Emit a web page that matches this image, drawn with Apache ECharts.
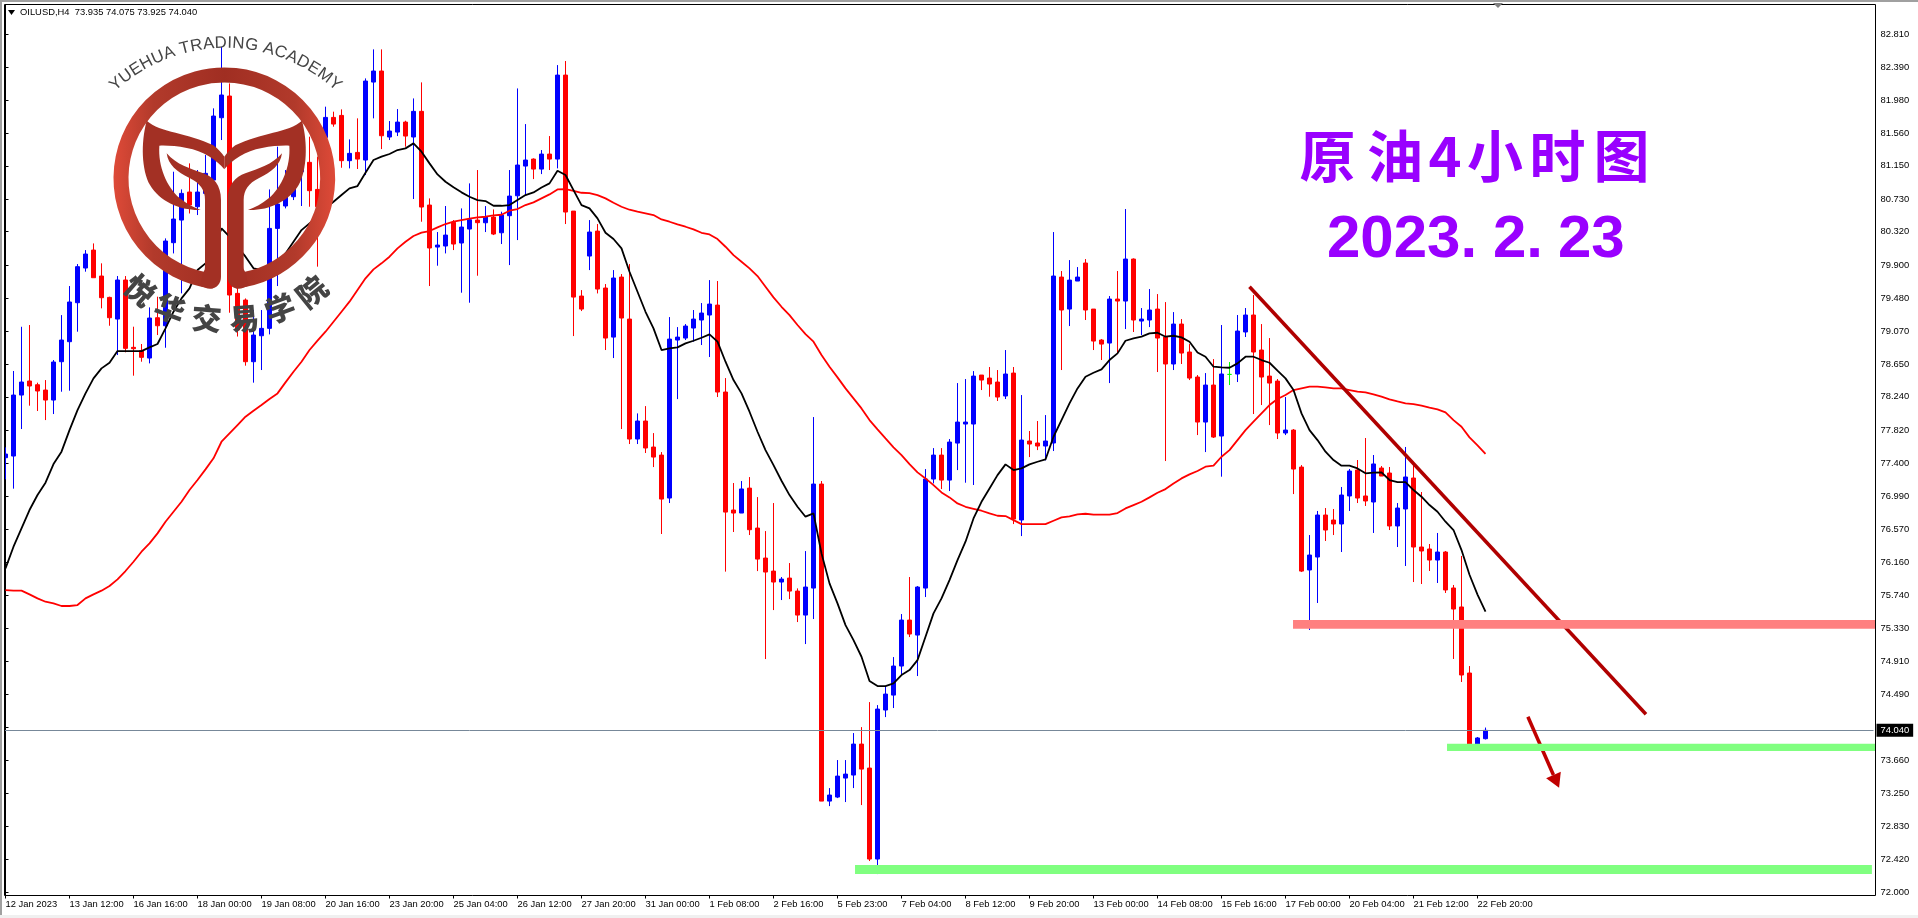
<!DOCTYPE html>
<html><head><meta charset="utf-8">
<style>html,body{margin:0;padding:0;background:#fff}#c{width:1918px;height:918px}</style>
<script src="https://cdn.jsdelivr.net/npm/echarts@6/dist/echarts.min.js"></script>
</head><body><div id="c"></div>
<script>
const opens=[77.474,77.495,78.263,78.440,78.393,78.326,78.200,78.683,78.935,79.426,
79.863,80.089,79.762,79.493,79.220,79.712,78.864,78.822,78.729,79.237,
79.136,80.182,80.467,80.820,80.635,80.803,80.971,81.756,82.029,79.544,
79.460,78.683,79.010,79.103,80.362,80.644,80.761,81.076,81.194,80.853,
81.508,81.760,81.785,81.215,81.319,81.223,82.205,82.344,81.513,81.575,
81.701,81.513,81.836,80.656,80.127,80.140,80.438,80.178,80.354,80.467,
80.433,80.505,80.307,80.522,80.773,81.147,81.235,81.109,81.298,81.235,
82.293,80.580,79.510,80.014,80.328,79.611,78.993,79.749,79.220,77.709,
77.936,77.608,77.507,76.966,78.956,78.981,79.107,79.208,79.271,79.396,
78.301,76.815,76.777,77.091,76.588,76.210,76.046,75.908,75.958,75.794,
75.492,75.832,77.142,73.149,73.200,73.439,73.477,73.867,73.565,72.419,
74.296,74.484,74.850,75.429,75.240,75.832,77.205,77.507,77.192,77.658,
77.898,77.898,78.515,78.477,78.427,78.251,78.540,76.689,77.684,77.659,
77.621,77.659,79.749,79.346,79.699,79.926,79.346,78.956,78.918,79.472,
79.447,79.976,79.195,79.208,79.346,78.994,78.654,79.157,78.805,78.490,
77.923,78.389,77.747,78.523,78.528,79.057,79.271,78.830,78.502,78.439,
77.785,77.822,77.356,76.060,76.223,76.752,76.689,76.639,76.992,77.319,
76.992,76.916,77.344,77.281,76.614,76.828,77.218,76.349,76.324,76.185,
76.286,75.833,75.594,74.762,73.830,73.935];
const closes=[77.520,78.263,78.427,78.377,78.314,78.200,78.679,78.956,79.435,79.880,
80.039,79.741,79.489,79.237,79.712,78.851,78.847,78.738,79.233,79.136,
80.203,80.480,80.803,80.656,80.820,81.055,81.777,82.042,79.523,79.082,
78.683,79.019,79.103,80.362,80.669,80.761,81.139,81.265,80.837,80.635,
81.760,81.676,81.215,81.307,81.235,82.218,82.344,81.529,81.588,81.701,
81.525,81.836,80.631,80.115,80.152,80.278,80.165,80.379,80.471,80.434,
80.509,80.291,80.530,80.769,81.160,81.223,81.109,81.298,81.235,82.293,
80.568,79.497,79.346,80.316,79.598,78.981,79.737,79.233,77.709,77.936,
77.596,77.482,76.953,78.968,78.993,79.132,79.220,79.296,79.409,78.301,
76.789,76.777,77.080,76.567,76.197,76.034,75.908,75.945,75.794,75.492,
75.845,77.142,73.149,73.225,73.464,73.489,73.867,73.552,72.419,74.308,
74.497,74.850,75.429,75.253,75.845,77.205,77.507,77.192,77.671,77.923,
77.923,78.502,78.452,78.402,78.238,78.528,76.701,77.696,77.646,77.621,
77.684,79.762,79.334,79.711,79.749,79.334,78.943,78.905,79.472,79.447,
79.976,79.208,79.220,79.334,78.981,78.654,79.157,78.792,78.477,77.923,
78.389,77.734,78.528,78.523,79.069,79.271,78.805,78.490,78.414,77.785,
77.822,77.331,76.046,76.248,76.752,76.563,76.639,77.004,77.306,76.966,
76.929,77.395,77.243,76.614,76.840,77.231,76.349,76.299,76.185,76.286,
75.808,75.568,74.737,73.822,73.944,74.040];
const lows=[77.201,77.084,77.835,78.129,78.062,77.948,78.024,78.305,78.318,79.061,
79.817,79.741,79.355,79.136,78.767,78.801,78.507,78.683,78.662,79.019,
78.859,80.047,79.544,80.550,80.530,80.635,80.845,81.475,79.300,79.000,
78.633,78.419,78.578,79.027,79.636,80.614,80.719,80.644,80.635,79.880,
81.265,81.643,81.126,81.118,81.110,81.034,81.748,81.361,81.475,81.525,
81.391,80.732,80.446,79.636,79.892,80.047,80.089,79.552,79.426,79.766,
80.316,80.278,80.165,79.900,80.215,80.782,80.983,81.046,81.097,81.118,
80.417,79.006,79.321,79.837,79.543,78.830,78.729,77.835,77.646,77.646,
77.533,77.356,76.513,76.903,78.212,78.956,78.935,78.893,78.742,78.238,
76.039,76.538,76.777,76.500,76.046,74.938,75.555,75.681,75.693,75.404,
75.127,75.442,73.149,73.086,73.187,73.137,73.313,73.099,72.394,72.230,
74.207,74.321,74.736,75.215,74.724,75.719,77.150,77.079,77.054,77.318,
77.159,77.130,78.326,78.242,78.188,78.213,76.638,76.487,77.482,77.570,
77.440,77.558,78.578,79.132,79.699,79.208,78.830,78.704,78.414,78.788,
79.094,79.057,79.019,79.119,78.553,77.432,78.578,78.654,78.452,77.759,
77.545,77.722,77.235,78.389,78.427,78.994,78.024,78.137,77.885,77.709,
77.759,77.016,76.034,75.304,75.644,76.425,76.500,76.286,76.803,76.903,
76.866,76.526,77.243,76.563,76.349,76.110,75.908,75.883,76.047,75.896,
75.770,74.939,74.649,73.780,73.805,73.925];
const highs=[77.604,78.566,79.123,79.145,78.419,78.452,78.704,79.270,79.636,79.913,
80.089,80.173,79.922,79.502,79.762,79.762,79.124,78.906,79.367,79.502,
80.236,81.076,80.853,81.181,81.097,81.286,81.874,82.650,82.188,79.630,
79.480,79.334,79.334,80.853,81.391,81.097,81.265,81.433,81.517,81.265,
81.895,81.832,81.861,81.483,81.748,82.251,82.617,82.617,81.714,81.865,
81.718,81.999,82.201,80.740,80.316,80.644,80.467,80.614,80.929,81.097,
80.643,80.601,80.572,81.097,82.125,81.676,81.244,81.349,81.525,82.419,
82.470,80.580,79.585,80.467,80.417,79.661,79.837,79.787,79.913,78.032,
78.124,77.784,77.545,79.245,79.119,79.157,79.334,79.422,79.711,79.699,
78.477,77.155,77.180,77.230,76.978,76.550,76.903,75.971,76.147,75.828,
76.298,77.986,77.180,73.313,73.666,73.666,74.006,74.081,74.396,74.358,
74.598,74.963,75.505,75.971,75.857,77.331,77.595,77.595,77.709,78.414,
78.465,78.565,78.515,78.616,78.578,78.830,78.616,78.263,77.810,77.936,
78.011,80.316,79.825,79.963,79.875,79.976,79.346,78.968,79.510,79.825,
80.606,79.984,79.359,79.598,79.535,79.434,79.308,79.220,78.905,78.515,
78.540,78.716,79.145,78.679,79.271,79.359,79.523,79.157,78.981,78.465,
78.238,77.835,77.381,76.500,76.803,76.840,76.828,77.105,77.332,77.445,
77.722,77.508,77.369,77.357,76.903,77.609,77.382,77.042,76.387,76.526,
76.299,75.871,76.236,74.850,73.956,74.075];
const blackMA=[76.080,76.353,76.584,76.815,77.004,77.159,77.394,77.550,77.822,78.074,
78.284,78.473,78.599,78.671,78.817,78.817,78.817,78.817,78.863,78.906,
79.103,79.313,79.481,79.607,79.838,79.922,80.100,80.362,80.257,80.130,
80.006,79.859,79.840,79.850,79.922,80.047,80.194,80.341,80.425,80.509,
80.614,80.698,80.782,80.866,80.895,81.063,81.223,81.265,81.299,81.349,
81.370,81.433,81.328,81.181,81.042,80.950,80.879,80.816,80.761,80.719,
80.706,80.647,80.647,80.656,80.719,80.782,80.815,80.878,80.929,81.088,
81.034,80.845,80.656,80.614,80.488,80.307,80.228,80.110,79.816,79.564,
79.312,79.103,78.830,78.851,78.863,78.914,78.947,78.985,79.027,78.935,
78.683,78.452,78.284,78.053,77.801,77.570,77.381,77.184,77.003,76.857,
76.731,76.773,76.269,75.891,75.639,75.366,75.177,74.967,74.661,74.598,
74.598,74.631,74.736,74.799,74.925,75.219,75.513,75.702,75.933,76.185,
76.416,76.709,76.919,77.087,77.255,77.390,77.318,77.339,77.390,77.423,
77.452,77.738,77.948,78.158,78.347,78.494,78.544,78.586,78.704,78.788,
78.947,78.977,78.998,79.040,79.048,78.998,79.010,78.989,78.935,78.800,
78.746,78.620,78.612,78.607,78.662,78.746,78.746,78.704,78.670,78.570,
78.473,78.326,78.032,77.822,77.696,77.549,77.444,77.373,77.373,77.339,
77.277,77.285,77.289,77.193,77.167,77.167,77.067,76.983,76.878,76.794,
76.668,76.563,76.311,76.000,75.750,75.535];
const redMA=[75.807,75.799,75.799,75.753,75.702,75.660,75.639,75.606,75.606,75.618,
75.702,75.753,75.799,75.858,75.942,76.047,76.164,76.290,76.395,76.521,
76.668,76.794,76.920,77.067,77.193,77.327,77.466,77.675,77.780,77.885,
77.990,78.066,78.137,78.213,78.284,78.423,78.557,78.683,78.830,78.948,
79.061,79.187,79.313,79.439,79.586,79.733,79.846,79.922,80.005,80.110,
80.194,80.266,80.308,80.329,80.375,80.417,80.446,80.467,80.484,80.501,
80.509,80.526,80.534,80.585,80.606,80.656,80.690,80.740,80.790,80.853,
80.857,80.836,80.811,80.807,80.782,80.740,80.685,80.635,80.597,80.572,
80.551,80.530,80.475,80.446,80.412,80.383,80.349,80.307,80.286,80.228,
80.131,80.026,79.942,79.858,79.762,79.627,79.493,79.375,79.270,79.145,
79.031,78.935,78.767,78.620,78.486,78.347,78.221,78.095,77.948,77.831,
77.717,77.604,77.507,77.394,77.289,77.213,77.129,77.037,76.974,76.898,
76.856,76.831,76.806,76.772,76.743,76.739,76.688,76.638,76.638,76.638,
76.638,76.680,76.722,76.735,76.760,76.768,76.756,76.756,76.756,76.777,
76.835,76.877,76.919,76.974,77.033,77.079,77.150,77.213,77.264,77.306,
77.361,77.373,77.486,77.570,77.696,77.822,77.927,78.032,78.137,78.213,
78.263,78.326,78.347,78.368,78.368,78.360,78.347,78.347,78.326,78.305,
78.297,78.272,78.242,78.209,78.183,78.158,78.150,78.129,78.104,78.083,
78.045,77.948,77.864,77.730,77.630,77.521];
const dateLabels=['12 Jan 2023','13 Jan 12:00','16 Jan 16:00','18 Jan 00:00','19 Jan 08:00','20 Jan 16:00','23 Jan 20:00','25 Jan 04:00','26 Jan 12:00','27 Jan 20:00','31 Jan 00:00','1 Feb 08:00','2 Feb 16:00','5 Feb 23:00','7 Feb 04:00','8 Feb 12:00','9 Feb 20:00','13 Feb 00:00','14 Feb 08:00','15 Feb 16:00','17 Feb 00:00','20 Feb 04:00','21 Feb 12:00','22 Feb 20:00'];
const priceTicks=[72.00,72.42,72.83,73.25,73.66,74.08,74.49,74.91,75.33,75.74,76.16,76.57,76.99,77.40,77.82,78.24,78.65,79.07,79.48,79.90,80.32,80.73,81.15,81.56,81.98,82.39,82.81];
const lastPrice=74.04;
const dojiBar=153;
const slotCount=234;
const bands=[[160.94,233.69,75.32,75.43],[180.19,233.69,73.78,73.87],[106.19,233.3,72.23,72.345]];
const bandColors=['#ff8080','#80ff80','#80ff80'];
const trendLine=[[155.5,79.627],[205.06,74.242]];
const arrowLine=[190.3,74.212,194.2,73.317];
const headerText='OILUSD,H4  73.935 74.075 73.925 74.040';
const titleChars=['原','油','4','小','时','图'];
const dateParts=['2023.','2.','23'];
const logoTop='YUEHUA TRADING ACADEMY';
const logoBottom=['悦','华','交','易','学','院'];

const cats=Array.from({length:slotCount},(_,i)=>String(i));
const candles=opens.map((o,i)=>{
  const v=[o,closes[i],lows[i],highs[i]];
  return i===dojiBar?{value:v,itemStyle:{color:'#00ff00',color0:'#00ff00',borderColor:'#00ff00',borderColor0:'#00ff00'}}:v;
});
const FONT='"Liberation Sans"';
const AXFS=9.4;
const grad={type:'linear',x:0,y:0,x2:1,y2:0,colorStops:[{offset:0,color:'#de4a38'},{offset:.18,color:'#b23a2b'},{offset:.5,color:'#a02e22'},{offset:.82,color:'#b23a2b'},{offset:1,color:'#de4a38'}]};
const mid=1346;
function mirror(d){return d.replace(/(-?\d+(?:\.\d+)?) (-?\d+(?:\.\d+)?)/g,(m,x,y)=>(mid-parseFloat(x))+' '+y);}
const leafOuter='M 440 362 C 480 398 565 398 640 436 C 655 446 665 460 673 470 L 673 508 C 650 480 610 452 560 444 C 530 438 500 436 478 437 C 474 500 500 560 540 595 C 560 612 580 622 602 630 C 540 632 480 605 450 555 C 425 510 422 430 440 362 Z';
const leafInner='M 500 460 C 530 495 570 505 610 520 C 640 530 663 555 663 600 L 663 830 C 663 850 650 866 630 866 C 620 866 612 860 600 857 L 612 812 C 615 812 615 800 615 790 L 615 600 C 615 570 600 550 570 535 C 530 515 505 495 500 460 Z';
const logoChildren=[
 {type:'path',shape:{pathData:'M 640 843 A 310 310 0 1 1 706 843'},style:{fill:'none',stroke:grad,lineWidth:45}},
 {type:'path',shape:{pathData:leafOuter},style:{fill:'#a33024'}},
 {type:'path',shape:{pathData:mirror(leafOuter)},style:{fill:'#a33024'}},
 {type:'path',shape:{pathData:leafInner},style:{fill:'#a33024'}},
 {type:'path',shape:{pathData:mirror(leafInner)},style:{fill:'#a33024'}}
];
(function(){
  const c=document.createElement('canvas').getContext('2d');
  const fs=16.8;c.font=fs+'px '+FONT;
  const total=c.measureText(logoTop).width;
  const cx=677/3,cy=631/3,r=476/3;
  const span=total/r;let adv=0;
  for(const ch of logoTop){
    const w=c.measureText(ch).width;
    const a=-span/2+(adv+w/2)/r;adv+=w;
    logoChildren.push({type:'text',x:(cx+r*Math.sin(a))*3,y:(cy-r*Math.cos(a))*3,rotation:-a,scaleX:3,scaleY:3,
      style:{text:ch,font:fs+'px '+FONT,fill:'#444',textAlign:'center',textVerticalAlign:'bottom',align:'center',verticalAlign:'bottom'}});
  }
})();
const lbPos=[[420,870,-.72],[510,925,-.35],[620,955,-.08],[733,955,.08],[840,925,.35],[935,875,.68]];
logoBottom.forEach((ch,i)=>logoChildren.push({type:'text',x:lbPos[i][0],y:lbPos[i][1],rotation:lbPos[i][2],scaleX:3,scaleY:3,
  style:{text:ch,font:'900 30px "Noto Sans CJK SC"',fill:'#444',textAlign:'center',textVerticalAlign:'middle',align:'center',verticalAlign:'middle'}}));

const titleX=[1327.5,1395,1445,1495,1557.5,1621.5];
const titleEls=titleChars.map((ch,i)=>({type:'text',x:titleX[i],y:156,z:90,
  style:{text:ch,font:'bold 56px "Noto Sans CJK SC"',fill:'#9900ff',textAlign:'center',textVerticalAlign:'middle'}}));
const dateX=[1327,1493,1558];
const dateEls=dateParts.map((t,i)=>({type:'text',x:dateX[i],y:240,z:90,
  style:{text:t,font:'bold 60px '+FONT,fill:'#9900ff',textAlign:'left',textVerticalAlign:'middle'}}));

const chart=echarts.init(document.getElementById('c'),null,{renderer:'canvas'});
chart.setOption({
 animation:false,backgroundColor:'#ffffff',
 grid:{left:1.5,top:4.5,width:1872,height:891,containLabel:false},
 xAxis:[{type:'category',data:cats,boundaryGap:true,
   axisLine:{show:false},
   axisTick:{show:true,alignWithLabel:true,length:3,interval:i=>i%8===0&&i<=184,lineStyle:{color:'#000',width:1}},
   axisLabel:{show:true,interval:i=>i%8===0&&i<=184,hideOverlap:false,align:'left',margin:4,color:'#000',fontFamily:FONT,fontSize:AXFS,
     formatter:(v,i)=>dateLabels[i/8]||''},
   splitLine:{show:false}},
  {type:'value',min:-0.5,max:slotCount-0.5,show:false,splitLine:{show:false}}],
 yAxis:[{type:'value',position:'right',offset:2,min:71.96,max:83.182,scale:true,
   axisLine:{show:true,lineStyle:{color:'#000',width:1}},
   axisTick:{show:true,length:3,customValues:priceTicks,lineStyle:{color:'#000'}},
   axisLabel:{show:true,customValues:priceTicks,margin:5,color:'#000',fontFamily:FONT,fontSize:AXFS,
     showMinLabel:true,showMaxLabel:true,formatter:v=>v.toFixed(3)},
   splitLine:{show:false}}],
 series:[
  {type:'line',name:'last',z:1,data:[],xAxisIndex:0,symbol:'none',
   markLine:{silent:true,symbol:'none',animation:false,lineStyle:{color:'#778899',width:1,type:'solid'},
     label:{show:true,position:'end',distance:3,formatter:()=>lastPrice.toFixed(3),color:'#fff',backgroundColor:'#000',padding:[2,4,2,4],fontFamily:FONT,fontSize:AXFS},
     data:[{yAxis:lastPrice}]}},
  {type:'candlestick',name:'OILUSD',z:3,data:candles,barWidth:5,
   itemStyle:{color:'#0000ff',color0:'#ff0000',borderColor:'#0000ff',borderColor0:'#ff0000',borderWidth:1}},
  {type:'line',name:'MA long',z:4,data:redMA,symbol:'none',showSymbol:false,lineStyle:{color:'#ff0000',width:1.8}},
  {type:'line',name:'MA short',z:4,data:blackMA,symbol:'none',showSymbol:false,lineStyle:{color:'#000000',width:1.8}},
  {type:'line',name:'trend',z:5,xAxisIndex:1,data:trendLine,symbol:'none',showSymbol:false,clip:false,lineStyle:{color:'#b00000',width:3.5}},
  {type:'custom',name:'arrow',z:5,xAxisIndex:1,clip:false,data:[arrowLine],
   encode:{x:[0,2],y:[1,3]},
   renderItem:(p,api)=>{
     const a=api.coord([api.value(0),api.value(1)]),b=api.coord([api.value(2),api.value(3)]);
     const L=Math.hypot(b[0]-a[0],b[1]-a[1]),dx=(b[0]-a[0])/L,dy=(b[1]-a[1])/L;
     const bx=b[0]-14*dx,by=b[1]-14*dy;
     return {type:'group',children:[
       {type:'line',shape:{x1:a[0],y1:a[1],x2:bx,y2:by},style:{stroke:'#c00000',lineWidth:3.5}},
       {type:'polygon',shape:{points:[b,[bx-8*dy,by+8*dx],[bx+8*dy,by-8*dx]]},style:{fill:'#c00000'}}
     ]};
   }},
  {type:'custom',name:'zones',z:6,xAxisIndex:1,clip:false,data:bands,
   encode:{x:[0,1],y:[2,3]},
   renderItem:(p,api)=>{
     const a=api.coord([api.value(0),api.value(3)]),b=api.coord([api.value(1),api.value(2)]);
     return {type:'rect',shape:{x:a[0],y:a[1],width:b[0]-a[0],height:b[1]-a[1]},
       style:{fill:bandColors[p.dataIndex],blend:'multiply'}};
   }},
  {type:'custom',name:'logo',coordinateSystem:'none',z:20,silent:true,clip:false,data:[[0]],
   renderItem:()=>({type:'group',scaleX:1/3,scaleY:1/3,children:logoChildren})}
 ],
 graphic:{elements:[
  {type:'rect',z:60,shape:{x:0,y:0,width:4,height:918},style:{fill:'#fff'}},
  {type:'rect',z:61,shape:{x:0,y:0,width:2,height:918},style:{fill:'#a0a0a0'}},
  {type:'rect',z:61,shape:{x:0,y:0,width:1918,height:2},style:{fill:'#a0a0a0'}},
  {type:'rect',z:61,shape:{x:0,y:915,width:1918,height:3},style:{fill:'#f0f0f0'}},
  {type:'rect',z:62,shape:{x:4.5,y:4.5,width:1871,height:891},style:{fill:'none',stroke:'#000',lineWidth:1}},
  {type:'polygon',z:63,shape:{points:[[8,10],[15,10],[11.5,15]]},style:{fill:'#000'}},
  {type:'polygon',z:63,shape:{points:[[1493,3],[1503,3],[1498,8]]},style:{fill:'#808080'}},
  {type:'text',z:63,x:20,y:12.5,style:{text:headerText,font:AXFS+'px '+FONT,fill:'#000',textVerticalAlign:'middle'}},
  ...titleEls,...dateEls
 ]}
});
</script></body></html>
